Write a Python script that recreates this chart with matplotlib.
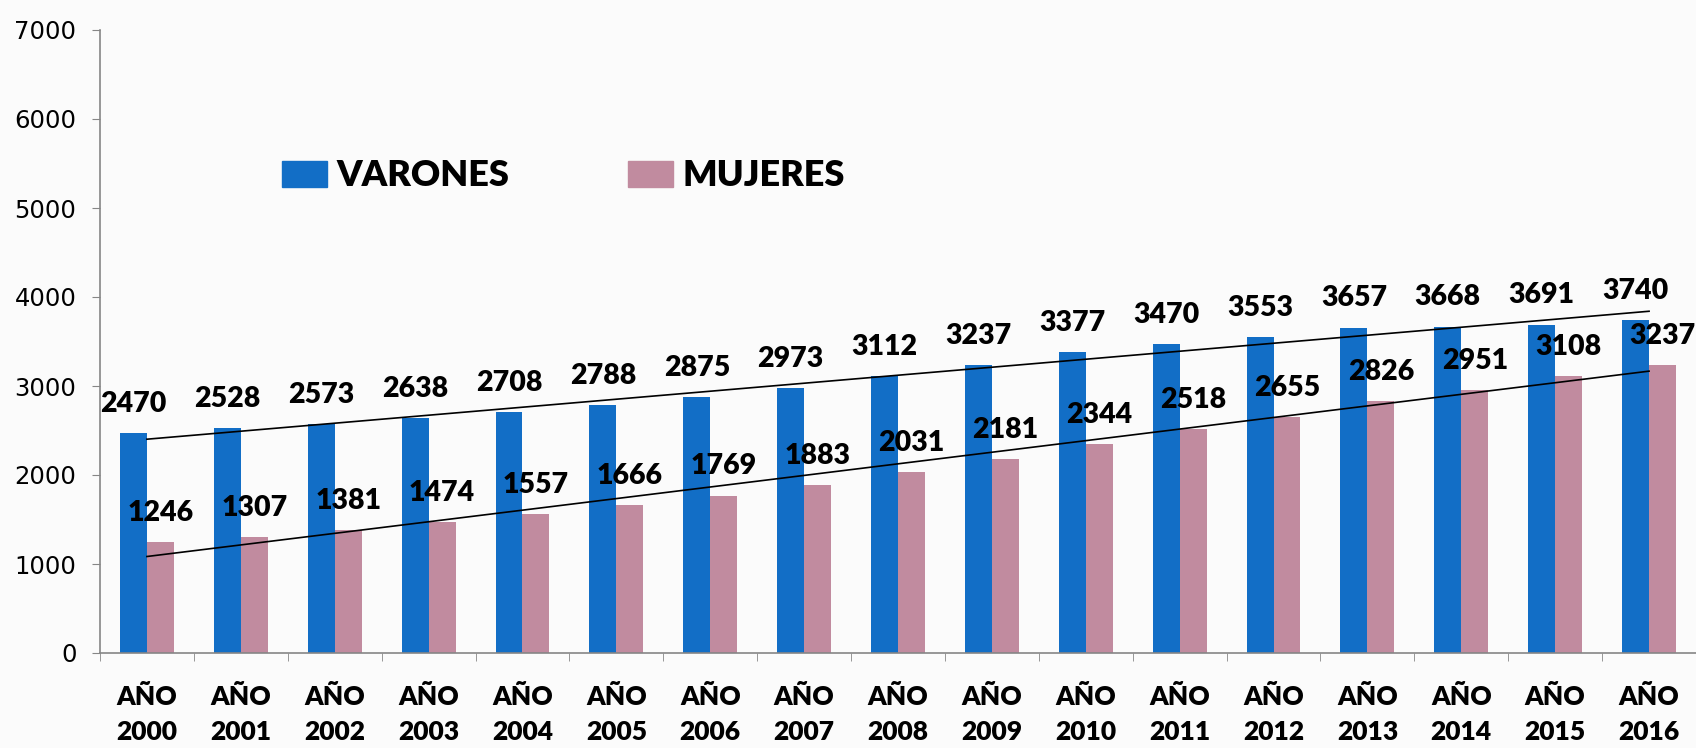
import matplotlib

matplotlib.use("Agg")
import matplotlib.pyplot as plt
import numpy as np
from matplotlib.patches import Patch

YEARS = [str(y) for y in range(2000, 2017)]
VARONES = [2470, 2528, 2573, 2638, 2708, 2788, 2875, 2973, 3112, 3237,
           3377, 3470, 3553, 3657, 3668, 3691, 3740]
MUJERES = [1246, 1307, 1381, 1474, 1557, 1666, 1769, 1883, 2031, 2181,
           2344, 2518, 2655, 2826, 2951, 3108, 3237]

BLUE = "#126ec6"
PINK = "#c18b9f"
BG = "#fbfbfb"
BOLD = "Lato"
WEIGHT = "heavy"


def main() -> None:
    fig = plt.figure(figsize=(16.96, 7.48), dpi=100, facecolor=BG)
    ax = fig.add_axes([100 / 1696, 1 - 653 / 748, 1 - 100 / 1696, (653 - 30) / 748])
    ax.set_facecolor(BG)

    x = np.arange(len(YEARS))
    w = 0.287
    ax.bar(x - w / 2, VARONES, w, color=BLUE, zorder=2)
    ax.bar(x + w / 2, MUJERES, w, color=PINK, zorder=2)

    # linear trend lines, one per series
    for vals in (VARONES, MUJERES):
        k, b = np.polyfit(x, vals, 1)
        ax.plot([x[0], x[-1]], [k * x[0] + b, k * x[-1] + b],
                color="black", lw=1.2, zorder=3)

    for xi, v in zip(x, VARONES):
        ax.annotate(str(v), (xi - w / 2, v), xytext=(0, 21),
                    textcoords="offset points", ha="center", va="center",
                    fontsize=20.5, fontweight=WEIGHT, family=BOLD, zorder=4)
    for xi, v in zip(x, MUJERES):
        ax.annotate(str(v), (xi + w / 2, v), xytext=(0, 21),
                    textcoords="offset points", ha="center", va="center",
                    fontsize=20.5, fontweight=WEIGHT, family=BOLD, zorder=4)

    ax.set_xlim(-0.5, len(YEARS) - 0.5)
    ax.set_ylim(0, 7000)
    ax.set_yticks(range(0, 7001, 1000))
    ax.tick_params(axis="y", labelsize=17.5, length=6, color="#868686",
                   pad=11)
    ax.set_xticks(x)
    ax.set_xticklabels([f"AÑO\n{y}" for y in YEARS], fontsize=19,
                       fontweight=WEIGHT, family=BOLD, linespacing=1.55)
    ax.tick_params(axis="x", which="major", length=0, pad=23)
    ax.set_xticks(np.arange(-0.5, len(YEARS)), minor=True)
    ax.tick_params(axis="x", which="minor", length=6, color="#868686")
    for s in ("top", "right"):
        ax.spines[s].set_visible(False)
    for s in ("left", "bottom"):
        ax.spines[s].set_color("#868686")
        ax.spines[s].set_linewidth(1.2)

    handles = [Patch(color=BLUE, label="VARONES"),
               Patch(color=PINK, label="MUJERES")]
    fig.legend(handles=handles, loc="center left",
               bbox_to_anchor=(282 / 1696, 1 - 176 / 748), ncol=2,
               frameon=False, borderpad=0, borderaxespad=0,
               handlelength=1.25, handleheight=0.7, handletextpad=0.25,
               columnspacing=3.3,
               prop={"family": BOLD, "weight": WEIGHT, "size": 26})

    fig.savefig("out.png", dpi=100, facecolor=BG)
    plt.close(fig)


if __name__ == "__main__":
    main()
